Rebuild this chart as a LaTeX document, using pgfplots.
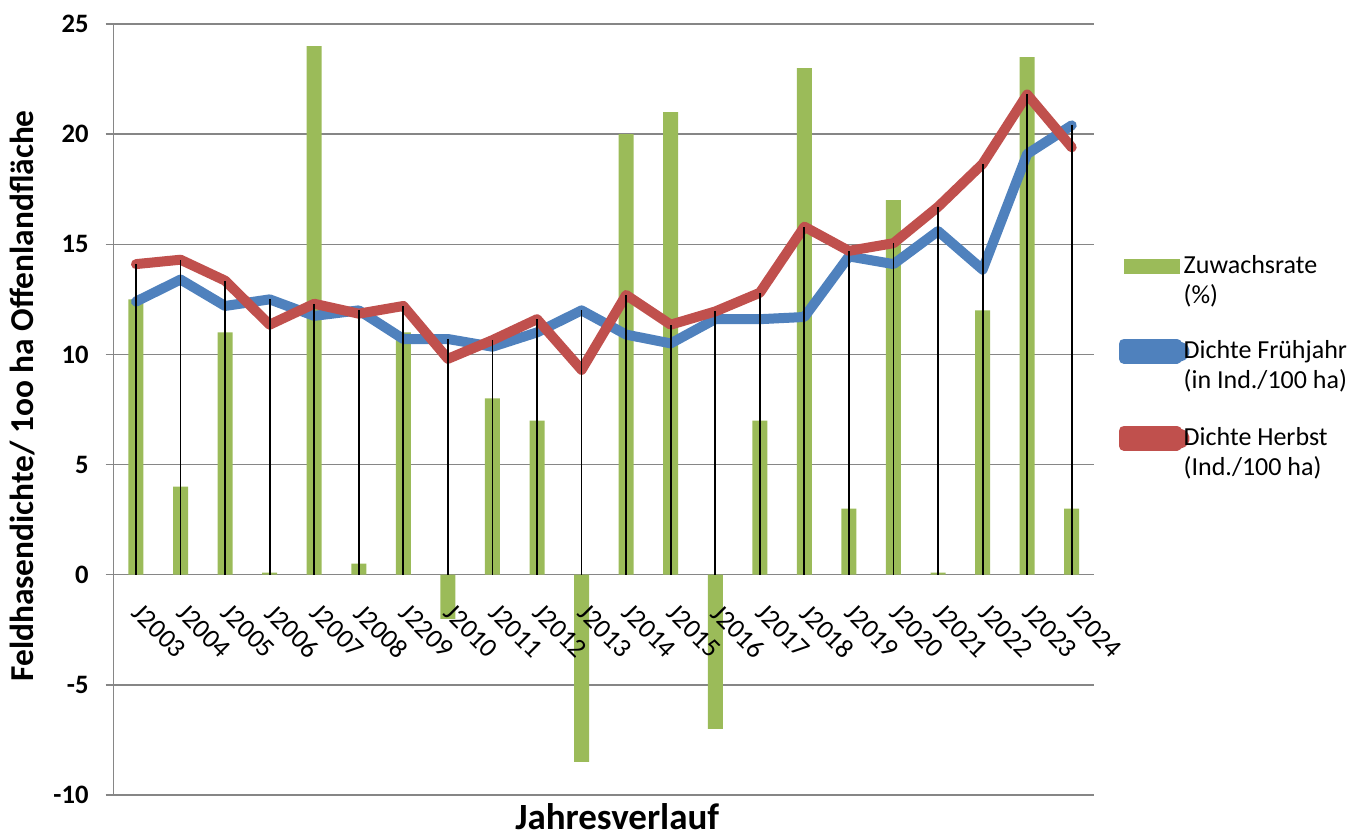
\documentclass[border=0pt]{standalone}
\usepackage{pgfplots}
\pgfplotsset{compat=1.18}
\usepackage{pgfplotstable}
\usepackage{fontspec}
\setmainfont{Carlito}
\definecolor{xlgreen}{HTML}{9BBB59}
\definecolor{xlblue}{HTML}{4F81BD}
\definecolor{xlred}{HTML}{C0504D}
\definecolor{xlgray}{HTML}{868686}

\pgfplotsset{
  layers/labelsontop/.define layer set={
    axis background,axis grid,main,axis ticks,axis lines,axis tick labels,axis descriptions,axis foreground
  }{
    grid style={/pgfplots/on layer=axis grid},
    tick style={/pgfplots/on layer=axis ticks},
    axis line style={/pgfplots/on layer=axis lines},
    label style={/pgfplots/on layer=axis descriptions},
    legend style={/pgfplots/on layer=axis descriptions},
    title style={/pgfplots/on layer=axis descriptions},
    ticklabel style={/pgfplots/on layer=axis tick labels},
  },
}

\pgfplotstableread{
x lbl bar fr he top
0 J2003 12.5 12.4 14.1 14.1
1 J2004 4 13.4 14.3 14.3
2 J2005 11 12.2 13.35 13.35
3 J2006 0.1 12.5 11.35 12.5
4 J2007 24 11.75 12.3 12.3
5 J2008 0.5 12.0 11.85 12.0
6 J2209 11 10.7 12.2 12.2
7 J2010 -2 10.7 9.8 10.7
8 J2011 8 10.35 10.65 10.65
9 J2012 7 11.0 11.6 11.6
10 J2013 -8.5 12.0 9.3 12.0
11 J2014 20 10.9 12.7 12.7
12 J2015 21 10.5 11.35 11.35
13 J2016 -7 11.6 11.95 11.95
14 J2017 7 11.6 12.8 12.8
15 J2018 23 11.7 15.8 15.8
16 J2019 3 14.45 14.7 14.7
17 J2020 17 14.1 15.05 15.05
18 J2021 0.1 15.6 16.7 16.7
19 J2022 12 13.85 18.65 18.65
20 J2023 23.5 19.1 21.8 21.8
21 J2024 3 20.4 19.4 20.4
}\datatable

\begin{document}
\begin{tikzpicture}
\begin{axis}[
  name=ax,
  set layers=labelsontop,
  scale only axis, width=490.15pt, height=385.5pt,
  xmin=-0.5, xmax=21.5, ymin=-10, ymax=25,
  axis lines=left,
  axis line style={-, draw=xlgray, line width=0.7pt},
  x axis line style={draw=none},
  xtick={0,...,21},
  xticklabels from table={\datatable}{lbl},
  xtick style={draw=none},
  xticklabel style={xshift=3.5pt, yshift=98.64pt, rotate=-45, anchor=north west, inner sep=0pt, font=\fontsize{13.5}{16}\selectfont},
  ytick={-10,-5,...,25},
  ytick align=outside,
  ytick style={draw=xlgray, line width=0.7pt},
  major tick length=4pt,
  yticklabel style={inner sep=0pt, anchor=east, xshift=-8.35pt, font=\bfseries\fontsize{13.3}{16}\selectfont},
  /pgf/number format/assume math mode=true,
  ymajorgrids,
  grid style={draw=xlgray, line width=0.7pt},
  xlabel={Jahresverlauf},
  ylabel={Feldhasendichte/ 1oo ha Offenlandfläche},
  xlabel style={at={(axis description cs:0.5136,-0.011)}, anchor=north, inner sep=0pt, font=\bfseries\fontsize{18.5}{21}\selectfont},
  ylabel style={at={(axis description cs:-0.0926,0.5175)}, anchor=center, inner sep=0pt, font=\bfseries\fontsize{16.7}{20}\selectfont},
  legend style={draw=none, fill=none, at={(axis description cs:1.0248,0.704)}, anchor=north west,
    inner sep=0pt, row sep=30.5pt, column sep=0pt,
    font=\fontsize{13}{15}\selectfont,
    cells={anchor=base west},
    nodes={inner xsep=1pt, inner ysep=0pt}},
  clip=false,
]
\addplot[ybar, bar width=7.5pt, bar shift=0pt, fill=xlgreen, draw=none,
  legend image code/.code={\path (0pt,0pt) rectangle (26.5pt,7.5pt); \fill[overlay, xlgreen] (2pt,0pt) rectangle (28pt,7.5pt);}]
  table[x=x, y=bar]{\datatable};
\addlegendentry{\begin{tabular}[t]{@{}l@{}}Zuwachsrate\\(\%)\end{tabular}}
\addplot[xlblue, line width=5pt, line join=round, line cap=round,
  legend image code/.code={\path (0pt,0pt) rectangle (26.5pt,7.5pt); \fill[overlay, xlblue, rounded corners=2.5pt] (0pt,1pt) rectangle (30.5pt,6pt);}]
  table[x=x, y=fr]{\datatable};
\addlegendentry{\begin{tabular}[t]{@{}l@{}}Dichte Frühjahr\\(in Ind./100 ha)\end{tabular}}
\addplot[xlred, line width=5pt, line join=round, line cap=round,
  legend image code/.code={\path (0pt,0pt) rectangle (26.5pt,7.5pt); \fill[overlay, xlred, rounded corners=2.5pt] (0pt,1pt) rectangle (30.5pt,6pt);}]
  table[x=x, y=he]{\datatable};
\addlegendentry{\begin{tabular}[t]{@{}l@{}}Dichte Herbst\\(Ind./100 ha)\end{tabular}}
\addplot[ycomb, black, line width=0.9pt, forget plot] table[x=x, y=top]{\datatable};
\end{axis}
\pgfresetboundingbox
\path[use as bounding box] (ax.south west) ++(-56.85pt,-21pt) rectangle ++(685pt,418.5pt);
\end{tikzpicture}
\end{document}
